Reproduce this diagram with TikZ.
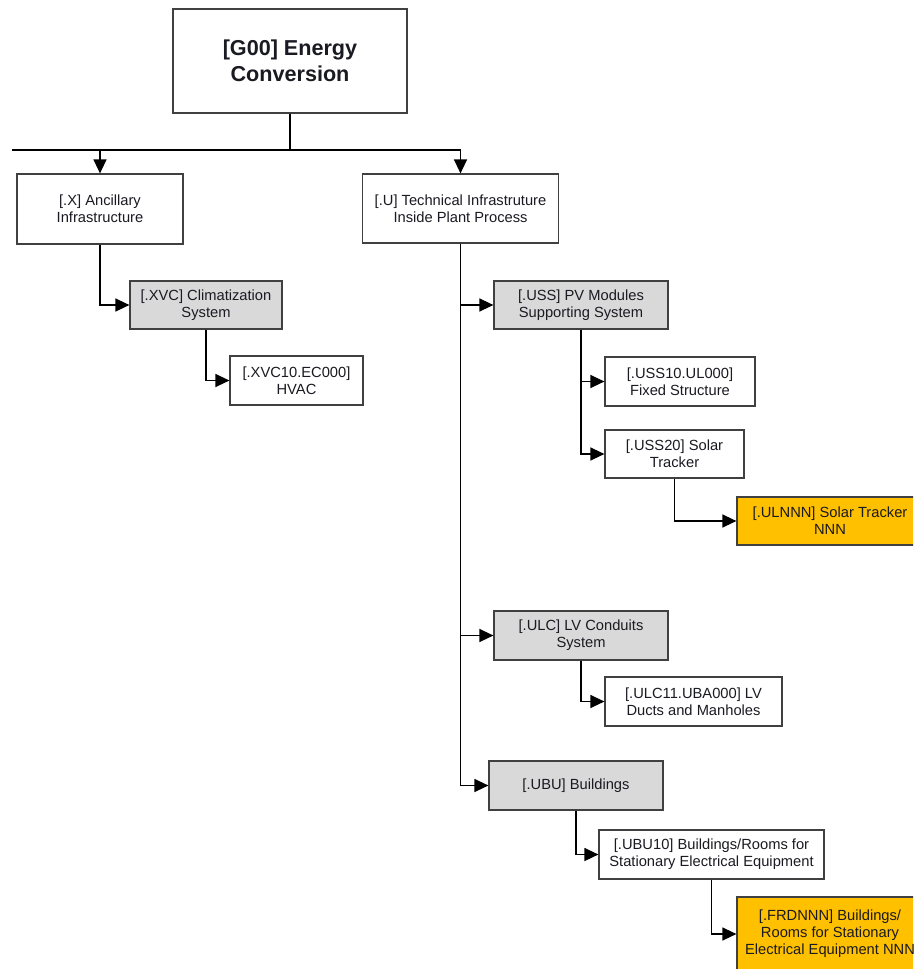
\documentclass[tikz,border=0pt]{standalone}
\usepackage{fontspec}
\setmainfont{Liberation Sans}
\usetikzlibrary{arrows.meta}
\definecolor{boxline}{HTML}{404040}
\definecolor{groupgray}{HTML}{D9D9D9}
\definecolor{amber}{HTML}{FFC000}
\definecolor{ink}{HTML}{1A1A22}
\begin{document}
\begin{tikzpicture}[x=1pt,y=-1pt,
  box/.style={draw=boxline, line width=1.2pt, fill=white, inner sep=0pt,
    align=center, text=ink, font=\fontsize{14.7}{17}\selectfont},
  grp/.style={box, fill=groupgray},
  leaf/.style={box, fill=amber},
  sz/.style 2 args={minimum width=#1pt, minimum height=#2pt},
  link/.style={draw=black, line width=1.3pt, -{Triangle[length=14pt,width=13pt]}},
  trunk/.style={draw=black, line width=1.3pt},
]
\useasboundingbox (0,0) rectangle (913,969);
\clip (0,0) rectangle (913,969);

% root
\node[box, sz={234}{104}, font=\bfseries\fontsize{21.6}{25.5}\selectfont] (G00) at (290,61)
  {[G00] Energy\\Conversion};

% first level
\node[box, sz={166}{70}] (X) at (100,209) {[.X] Ancillary\\Infrastructure};
\node[box, sz={196}{69}] (U) at (460.5,208.5) {[.U] Technical Infrastruture\\Inside Plant Process};

% ancillary branch
\node[grp, sz={152}{48}] (XVC) at (206,305) {[.XVC] Climatization\\System};
\node[box, sz={133}{49}] (XVC10) at (296.5,380.5) {[.XVC10.EC000]\\HVAC};

% technical infrastructure branch
\node[grp, sz={174}{48}] (USS) at (581,305) {[.USS] PV Modules\\Supporting System};
\node[box, sz={150}{49}] (USS10) at (680,381.5) {[.USS10.UL000]\\Fixed Structure};
\node[box, sz={139}{48}] (USS20) at (674.5,454) {[.USS20] Solar\\Tracker};
\node[leaf, sz={186}{48}] (ULNNN) at (830,521) {[.ULNNN] Solar Tracker\\NNN};

\node[grp, sz={174}{49}] (ULC) at (581,635.5) {[.ULC] LV Conduits\\System};
\node[box, sz={177}{49}] (ULC11) at (693.5,701.5) {[.ULC11.UBA000] LV\\Ducts and Manholes};

\node[grp, sz={174}{49}] (UBU) at (576,785.5) {[.UBU] Buildings};
\node[box, sz={225}{49}] (UBU10) at (711.5,854.5) {[.UBU10] Buildings/Rooms for\\Stationary Electrical Equipment};
\node[leaf, sz={186}{74}] (FRD) at (830,934) {[.FRDNNN] Buildings/\\Rooms for Stationary\\Electrical Equipment NNN};

% bus under the root
\coordinate (bus) at (290,150);
\coordinate (busL) at (12,150);
\draw[trunk] (G00.south) -- (bus);
\draw[link] (busL) -| (U.north);
\draw[link] (X.north |- bus) -- (X.north);

% connectors
\draw[link] (X.south) |- (XVC.west);
\draw[link] (XVC.south) |- (XVC10.west);
\draw[link] (U.south) |- (USS.west);
\draw[link] (U.south) |- (ULC.west);
\draw[link] (U.south) |- (UBU.west);
\draw[link] (USS.south) |- (USS10.west);
\draw[link] (USS.south) |- (USS20.west);
\draw[link] (USS20.south) |- (ULNNN.west);
\draw[link] (ULC.south) |- (ULC11.west);
\draw[link] (UBU.south) |- (UBU10.west);
\draw[link] (UBU10.south) |- (FRD.west);
\end{tikzpicture}
\end{document}
